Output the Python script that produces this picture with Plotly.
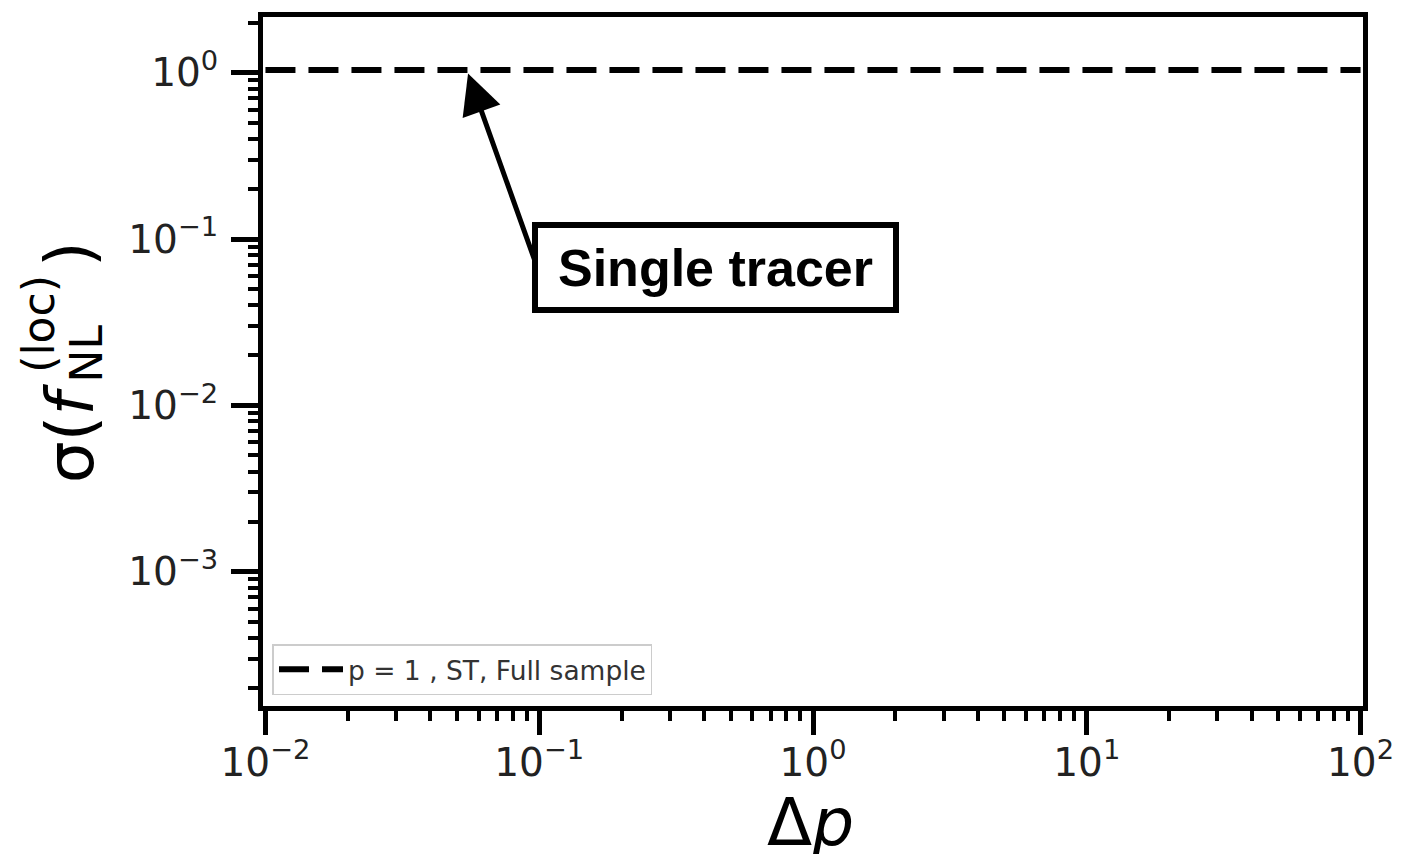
import plotly.graph_objects as go

# ---- data ----
delta_p = [0.01, 100.0]
sigma_fnl = [1.04, 1.04]
series_name = "p = 1 , ST, Full sample"

x_tickvals = [0.01, 0.1, 1, 10, 100]
x_ticktext = ["10<sup>\u22122</sup>", "10<sup>\u22121</sup>", "10<sup>0</sup>",
              "10<sup>1</sup>", "10<sup>2</sup>"]
y_tickvals = [0.001, 0.01, 0.1, 1]
y_ticktext = ["10<sup>\u22123</sup>", "10<sup>\u22122</sup>", "10<sup>\u22121</sup>",
              "10<sup>0</sup>"]

x_minor = [m * 10.0 ** e for e in range(-2, 2) for m in range(2, 10)]
y_minor = [m * 10.0 ** e for e in range(-4, 1) for m in range(2, 10)]

annot_text = "<b>Single tracer</b>"

# ---- layout geometry ----
W, H = 1406, 863
L, R, T, B = 262.5, 40.5, 14, 157
PW, PH = W - L - R, H - T - B


def px(xp):
    return (xp - L) / PW


def py(yp):
    return (H - B - yp) / PH


fig = go.Figure()
fig.add_trace(go.Scatter(
    x=delta_p, y=sigma_fnl, mode="lines", name=series_name,
    line=dict(color="black", width=6, dash="30px,13px"),
))

tickfont = dict(family="DejaVu Sans", size=39, color="#222222")

fig.update_xaxes(
    type="log", range=[-2.009, 2.009],
    showline=True, linewidth=5, linecolor="black", mirror=True,
    ticks="outside", ticklen=24, tickwidth=5, tickcolor="black",
    tickmode="array", tickvals=x_tickvals, ticktext=x_ticktext,
    tickfont=tickfont, showgrid=False, zeroline=False, ticklabelstandoff=-6,
    minor=dict(ticks="outside", ticklen=10, tickwidth=4, tickcolor="black",
               tickmode="array", tickvals=x_minor, showgrid=False),
)
fig.update_yaxes(
    type="log", range=[-3.808, 0.335],
    showline=True, linewidth=5, linecolor="black", mirror=True,
    ticks="outside", ticklen=27, tickwidth=5, tickcolor="black",
    tickmode="array", tickvals=y_tickvals, ticktext=y_ticktext,
    tickfont=tickfont, showgrid=False, zeroline=False, ticklabelstandoff=5,
    minor=dict(ticks="outside", ticklen=10, tickwidth=4, tickcolor="black",
               tickmode="array", tickvals=y_minor, showgrid=False),
)

annotations = []
# arrow
annotations.append(dict(
    x=-1.26, y=-0.005, xref="x", yref="y",
    ax=-1.0144, ay=-1.138, axref="x", ayref="y",
    text="", showarrow=True, arrowhead=2, arrowsize=1.6, arrowwidth=5,
    arrowcolor="black",
))
# text box
annotations.append(dict(
    x=-0.357, y=-1.171, xref="x", yref="y", showarrow=False,
    text=annot_text, xanchor="center", yanchor="middle",
    font=dict(family="Liberation Sans", size=52, color="black"),
    bgcolor="white", bordercolor="black", borderwidth=6, borderpad=3,
    width=349, height=73,
))
# x axis label
annotations.append(dict(
    x=px(811), y=py(823), xref="paper", yref="paper", showarrow=False,
    text="\u0394<i>p</i>", xanchor="center", yanchor="middle",
    font=dict(family="DejaVu Sans", size=66, color="black"),
    height=64,
))
# y axis label pieces (rotated)
ylab_font = dict(family="DejaVu Sans", size=66, color="black")
ylab_small = dict(family="DejaVu Sans", size=44, color="black")
annotations.append(dict(
    x=px(69), y=py(432), xref="paper", yref="paper", showarrow=False,
    text="\u03c3(<i>f</i>", textangle=-90, xanchor="center", yanchor="middle",
    font=ylab_font,
))
annotations.append(dict(
    x=px(38), y=py(322), xref="paper", yref="paper", showarrow=False,
    text="(loc)", textangle=-90, xanchor="center", yanchor="middle",
    font=ylab_small,
))
annotations.append(dict(
    x=px(86), y=py(352), xref="paper", yref="paper", showarrow=False,
    text="NL", textangle=-90, xanchor="center", yanchor="middle",
    font=ylab_small,
))
annotations.append(dict(
    x=px(69), y=py(252), xref="paper", yref="paper", showarrow=False,
    text=")", textangle=-90, xanchor="center", yanchor="middle",
    font=ylab_font,
))

fig.update_layout(
    width=W, height=H,
    margin=dict(l=L, r=R, t=T, b=B, pad=0),
    plot_bgcolor="white", paper_bgcolor="white",
    showlegend=True,
    legend=dict(
        x=px(272), y=py(695), xanchor="left", yanchor="bottom",
        bgcolor="white", bordercolor="#cccccc", borderwidth=1.5,
        itemwidth=64,
        font=dict(family="DejaVu Sans", size=26.5, color="#333333"),
    ),
    annotations=annotations,
)

fig.write_html("out.html")
